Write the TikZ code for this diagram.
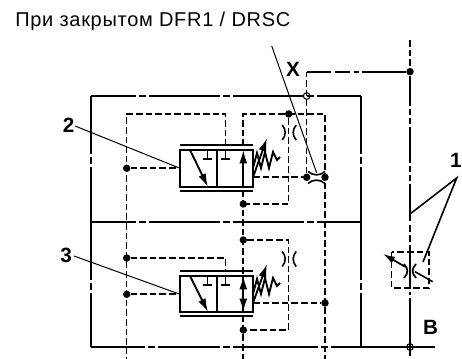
\documentclass[tikz,border=0pt]{standalone}
\usepackage{fontspec}
\setmainfont{Liberation Sans}
\newfontfamily\topfont[LetterSpace=3.5]{Liberation Sans}
\usetikzlibrary{arrows.meta}
\tikzset{
  x=0.75pt,y=-0.75pt,
  hframe/.style={line width=1.4pt,dash pattern=on 53.25pt off 2.25pt on 5.25pt off 2.25pt,dash phase=19.5pt},
  vframe/.style={line width=1.4pt,dash pattern=on 43.5pt off 2.25pt on 5.25pt off 2.25pt on 400pt off 1pt},
  bframe/.style={line width=1.4pt,dash pattern=on 40.5pt off 2.25pt on 5.25pt off 2.25pt on 46.5pt off 2.25pt on 5.25pt off 2.25pt on 63.75pt off 2.25pt on 5.25pt off 2.25pt on 300pt off 1pt},
  xframe/.style={line width=1.3pt,dash pattern=on 18pt off 3pt on 11.25pt off 3pt on 3.75pt off 2.25pt on 100pt off 1pt},
  rframe/.style={line width=1.3pt,dash pattern=on 22.5pt off 2.25pt on 4.5pt off 2.25pt on 4.5pt off 2.25pt on 27pt off 2.25pt on 4.5pt off 2.25pt on 4.5pt off 2.25pt on 27.75pt off 3pt on 5.25pt off 2.25pt on 5.25pt off 2.25pt on 33pt off 2.25pt on 2.25pt off 2.25pt on 400pt off 1pt},
  inner/.style={line width=1.2pt,dash pattern=on 4.9pt off 2.3pt},
  thinl/.style={line width=0.75pt},
  lead/.style={line width=1.2pt},
  dot/.style={circle,fill=black,inner sep=0pt,minimum size=5.6pt},
  junction/.style={circle,draw=black,line width=0.8pt,inner sep=0pt,minimum size=5pt},
  lab/.style={font=\bfseries\fontsize{15.5pt}{16pt}\selectfont,inner sep=0pt},
  head/.style={-{Latex[length=10pt,width=6pt]},line width=1.4pt},
  arcl/.style={line width=1.2pt},
}
\newcommand{\restrV}[2]{%
  \draw[arcl] (#1-6.5,#2-7.5) .. controls (#1-2.5,#2-3) and (#1-2.5,#2+3) .. (#1-6.5,#2+7.5);
  \draw[arcl] (#1+7.5,#2-7.5) .. controls (#1+3.5,#2-3) and (#1+3.5,#2+3) .. (#1+7.5,#2+7.5);}
\newcommand{\valve}[2]{% y top, y bottom
  \draw[line width=1.5pt] (180,#1) rectangle (253,#2);
  \draw[line width=1.3pt] (216.7,#1) -- (216.7,#2);
  \draw[line width=1.5pt] (180,#1-4.5) -- (253,#1-4.5);
  \draw[line width=1.5pt] (180,#2+4.5) -- (253,#2+4.5);
  \draw[head] (190,#1) -- (208,#2);
  \draw[line width=1.2pt] (207.7,#1) -- (207.7,#1+9) (203,#1+9) -- (212.4,#1+9);
  \draw[line width=1.2pt] (225.7,#1) -- (225.7,#1+9) (221,#1+9) -- (230.4,#1+9);
}
\newcommand{\spring}[1]{% y of box top
  \draw[line width=1.4pt] (253,#1+18) -- (257,#1+3) -- (261,#1+18) -- (265,#1+2) -- (269,#1+18) -- (273,#1+2) -- (277,#1+10) -- (280,#1+7);
}
\begin{document}
\begin{tikzpicture}
\useasboundingbox (0,0) rectangle (462,359);
% coordinates
\coordinate (fTL) at (90.7,96);
\coordinate (fTR) at (360.7,96);
\coordinate (fML) at (90.7,222);
\coordinate (fMR) at (360.7,222);
\coordinate (fBL) at (90.7,347);
\coordinate (fBR) at (435,347);
\coordinate (fBM) at (360.7,347);
% frame
\draw[hframe] (fTL) -- (fTR);
\draw[hframe] (fML) -- (fMR);
\draw[bframe] (fBL) -- (fBR);
\draw[vframe] (fTL) -- (fML);
\draw[vframe] (fML) -- (fBL);
\draw[vframe] (fTR) -- (fMR);
\draw[vframe] (fMR) -- (fBM);
% main right line
\node[dot] (topdot) at (410,71.7) {};
\coordinate (rT) at (410,40);
\coordinate (rB) at (410,356);
\draw[line width=1.2pt,dash pattern=on 5pt off 2.3pt] (rT) -- (topdot);
\draw[rframe] (topdot) -- (rB);
% X line
\node[dot] (xdot) at (306.7,177.3) {};
\node[dot] (xdot2) at (325,177.3) {};
\coordinate (xc) at (306.7,71.7);
\draw[inner] (xdot) -- (xc);
\draw[xframe] (xc) -- (topdot);
\node[junction] (j1) at (306.7,96) {};
\node[junction] (j2) at (410,347) {};
% inner lines upper
\node[dot] (d1) at (126.7,168.3) {};
\node[dot] (d2) at (288.7,114) {};
\node[dot] (d3) at (243.3,204) {};
\node[dot] (d4) at (126.7,258) {};
\node[dot] (d5) at (126.7,294.3) {};
\node[dot] (d6) at (243.3,240) {};
\node[dot] (d7) at (243.3,330) {};
\node[dot] (d8) at (325,303) {};
\coordinate (a1) at (126.7,114);
\coordinate (a2) at (225.7,114);
\coordinate (a3) at (225.7,146);
\coordinate (a4) at (243.3,114);
\coordinate (a5) at (243.3,146);
\coordinate (a6) at (325,114);
\coordinate (a7) at (288.7,204);
\coordinate (a8) at (180,168.3);
\coordinate (a9) at (253,177.3);
\coordinate (b1) at (126.7,359);
\coordinate (b2) at (243.3,359);
\coordinate (b3) at (325,359);
\coordinate (b4) at (243.3,190.5);
\draw[inner] (a3) -- (a2) -- (a1) -- (b1);
\draw[inner] (a5) -- (a4) -- (a6) -- (b3);
\draw[inner] (d2) -- (a7) -- (d3);
\draw[inner] (b4) -- (b2);
\draw[inner] (d1) -- (a8);
\draw[inner] (a9) -- (xdot);
% inner lines lower
\coordinate (c1) at (225.7,258);
\coordinate (c2) at (225.7,271.7);
\coordinate (c3) at (288.7,240);
\coordinate (c4) at (288.7,330);
\coordinate (c5) at (180,294.3);
\coordinate (c6) at (253,303);
\draw[inner] (d4) -- (c1) -- (c2);
\draw[inner] (d6) -- (c3) -- (c4) -- (d7);
\draw[inner] (d5) -- (c5);
\draw[inner] (c6) -- (d8);
% valves
\valve{150}{187}
\valve{276}{312}
\draw[head] (243.3,187) -- (243.3,150);
\draw[head] (243.3,294) -- (243.3,276);
\draw[head] (243.3,294) -- (243.3,312);
% springs
\spring{150}
\draw[head] (253,177.3) -- (267,138);
\spring{276}
\draw[head] (253,303) -- (267,264);
% restrictors
\restrV{288.7}{132.5}
\restrV{288.7}{259}
\draw[arcl] (308,171.5) .. controls (313,176) and (320,176) .. (325,171.5);
\draw[arcl] (308,183.5) .. controls (313,179) and (320,179) .. (325,183.5);
% box 1
\coordinate (s1) at (391.7,252);
\coordinate (s2) at (429,288);
\draw[inner] (s1) rectangle (s2);
\draw[line width=1.3pt] (404,264) .. controls (408.5,269) and (408.5,273) .. (404,278);
\draw[line width=1.3pt] (416,264) .. controls (411.5,269) and (411.5,273) .. (416,278);
\coordinate (v1) at (432.7,281.7);
\coordinate (v2) at (415,271.7);
\coordinate (v3) at (405,266.7);
\coordinate (v4) at (383,254);
\draw[line width=1.2pt] (v1) -- (v2);
\draw[-{Latex[length=9pt,width=5.5pt]},line width=1.3pt] (v3) -- (v4);
% leaders
\node[lab,anchor=east] (n1) at (462,160) {1};
\node[lab] (n2) at (68.7,125) {2};
\node[lab] (n3) at (66,255.7) {3};
\node[lab] (nx) at (293,69) {X};
\node[lab] (nb) at (430.5,327.5) {B};
\node[font=\topfont\fontsize{15pt}{16pt}\selectfont,anchor=base west,inner sep=0pt] (t) at (15,27) {При закрытом DFR1 / DRSC};
\coordinate (l1) at (456.7,178);
\coordinate (l2) at (410,214);
\coordinate (l3) at (423,262);
\draw[lead] (l2) -- (l1) -- (l3);
\coordinate (l4) at (75,126);
\coordinate (l5) at (180,168.3);
\coordinate (l6) at (74,256);
\coordinate (l7) at (180,294.3);
\coordinate (l8) at (271.7,46);
\coordinate (l9) at (316.7,173);
\draw[thinl] (l4) -- (l5);
\draw[thinl] (l6) -- (l7);
\draw[thinl] (l8) -- (l9);
\end{tikzpicture}
\end{document}
